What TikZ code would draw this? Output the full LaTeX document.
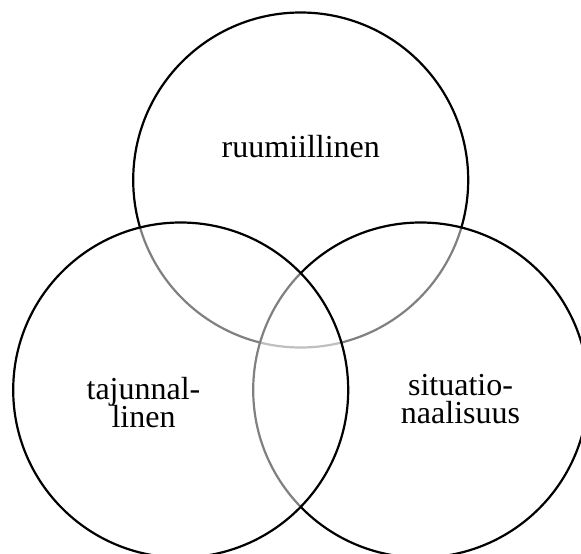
\documentclass[tikz,border=0pt]{standalone}
\usepackage{fontspec}
\setmainfont{Liberation Serif}
\usepackage{tikz}
\newcommand{\rivit}{\fontsize{32}{28}\selectfont\lineskiplimit=-100pt\relax}

\begin{document}
\begin{tikzpicture}[
  x = 1pt, y = -1pt,
  ympyra/.style  = {draw, circle, minimum size=335pt, inner sep=0pt,
                    line width=2.2pt, fill=white, fill opacity=0.5},
  teksti/.style  = {align=center, anchor=base, text opacity=1,
                    font=\rivit}
]
\useasboundingbox (0,0) rectangle (581,554);
\clip (0,0) rectangle (581,554);
\node[ympyra] (ruumis)   at (300.7,180) {};
\node[ympyra] (tilanne)  at (420.7,390) {};
\node[ympyra] (tajunta)  at (180.7,390) {};
\node[teksti] (r) at (300.8,157) {ruumiillinen};
\node[teksti] (t) at (143.5,427) {tajunnal-\\linen};
\node[teksti] (s) at (460.5,423) {situatio-\\naalisuus};
\end{tikzpicture}
\end{document}
